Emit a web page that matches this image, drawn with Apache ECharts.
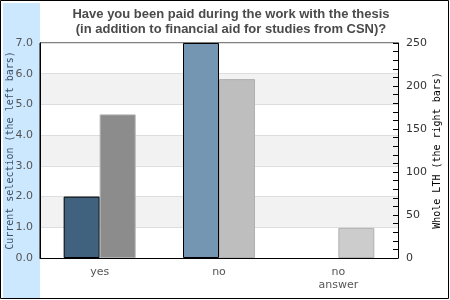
<!DOCTYPE html>
<html>
<head>
<meta charset="utf-8">
<script src="https://cdn.jsdelivr.net/npm/echarts@6/dist/echarts.min.js"></script>
<style>
  html, body { margin: 0; padding: 0; background: #fff; }
  #chart { width: 450px; height: 300px; }
</style>
</head>
<body>
<div id="chart"></div>
<script>
// answers on the x axis
const categories = ["yes", "no", "no\nanswer"];
// left bars: current selection (left axis, 0-7)
const currentValues = [2, 7, "-"];
// right bars: whole LTH (right axis, 0-250)
const wholeValues = [167, 208, 35];

const currentColors = ["#41627e", "#7496b2", "#a9c3d8"];
const wholeColors = ["#8c8c8c", "#bebebe", "#cccccc"];

const chart = echarts.init(document.getElementById("chart"));

const option = {
  animation: false,
  backgroundColor: "#fff",
  textStyle: { fontFamily: "DejaVu Sans" },
  title: {
    text: "Have you been paid during the work with the thesis\n(in addition to financial aid for studies from CSN)?",
    left: 226,
    textAlign: "center",
    top: 2,
    textStyle: {
      fontFamily: "Liberation Sans",
      fontSize: 13,
      fontWeight: "bold",
      color: "#4a4a4a",
      lineHeight: 15
    }
  },
  graphic: [
    // light blue band on the left
    { type: "rect", z: -10, silent: true,
      shape: { x: 3, y: 3, width: 37, height: 295 },
      style: { fill: "#cce8ff" } },
    // outer frame
    { type: "rect", z: 100, silent: true,
      shape: { x: 0.5, y: 0.5, width: 448, height: 298 },
      style: { fill: null, stroke: "#000", lineWidth: 1 } }
  ],
  grid: {
    left: 40, top: 43, right: 52, bottom: 42,
    outerBoundsMode: "none",
    containLabel: false,
    show: true, borderColor: "#000", borderWidth: 1, backgroundColor: "transparent"
  },
  xAxis: {
    type: "category",
    data: categories,
    axisTick: { show: false },
    axisLine: { lineStyle: { color: "#000" } },
    axisLabel: { color: "#555", fontSize: 11, margin: 8, lineHeight: 13 }
  },
  yAxis: [
    {
      type: "value", min: 0, max: 7, interval: 1,
      position: "left",
      name: "Current selection (the left bars)",
      nameLocation: "middle", nameRotate: 90, nameGap: 25,
      nameMoveOverlap: false,
      nameTextStyle: { fontFamily: "DejaVu Sans Mono", fontSize: 10, color: "#3d4d6b" },
      axisLine: { show: true, lineStyle: { color: "#000" } },
      axisTick: { show: false },
      axisLabel: { color: "#555", fontSize: 11, margin: 7, formatter: v => v.toFixed(1) },
      splitLine: { show: true, lineStyle: { color: "#dddddd" } },
      splitArea: { show: true, areaStyle: { color: ["#ffffff", "#f2f2f2"] } }
    },
    {
      type: "value", min: 0, max: 250, interval: 50,
      position: "right",
      name: "Whole LTH (the right bars)",
      nameLocation: "middle", nameRotate: 90, nameGap: 34,
      nameMoveOverlap: false,
      nameTextStyle: { fontFamily: "DejaVu Sans Mono", fontSize: 10, color: "#000" },
      axisLine: { show: true, lineStyle: { color: "#000" } },
      axisTick: { show: true, inside: true, length: 5, lineStyle: { color: "#000" } },
      minorTick: { show: true, splitNumber: 5, length: 5, lineStyle: { color: "#000" } },
      axisLabel: { color: "#333", fontSize: 11, margin: 8 },
      splitLine: { show: false }
    }
  ],
  series: [
    {
      name: "Current selection",
      type: "bar",
      yAxisIndex: 0,
      barWidth: 36,
      barGap: "0%",
      data: currentValues.map((v, i) => ({
        value: v,
        itemStyle: { color: currentColors[i], borderColor: "#000", borderWidth: 1 }
      }))
    },
    {
      name: "Whole LTH",
      type: "bar",
      yAxisIndex: 1,
      barWidth: 36,
      barGap: "0%",
      data: wholeValues.map((v, i) => ({
        value: v,
        itemStyle: { color: wholeColors[i], borderColor: "#b0b0b0", borderWidth: 1 }
      }))
    }
  ]
};

chart.setOption(option);
</script>
</body>
</html>
